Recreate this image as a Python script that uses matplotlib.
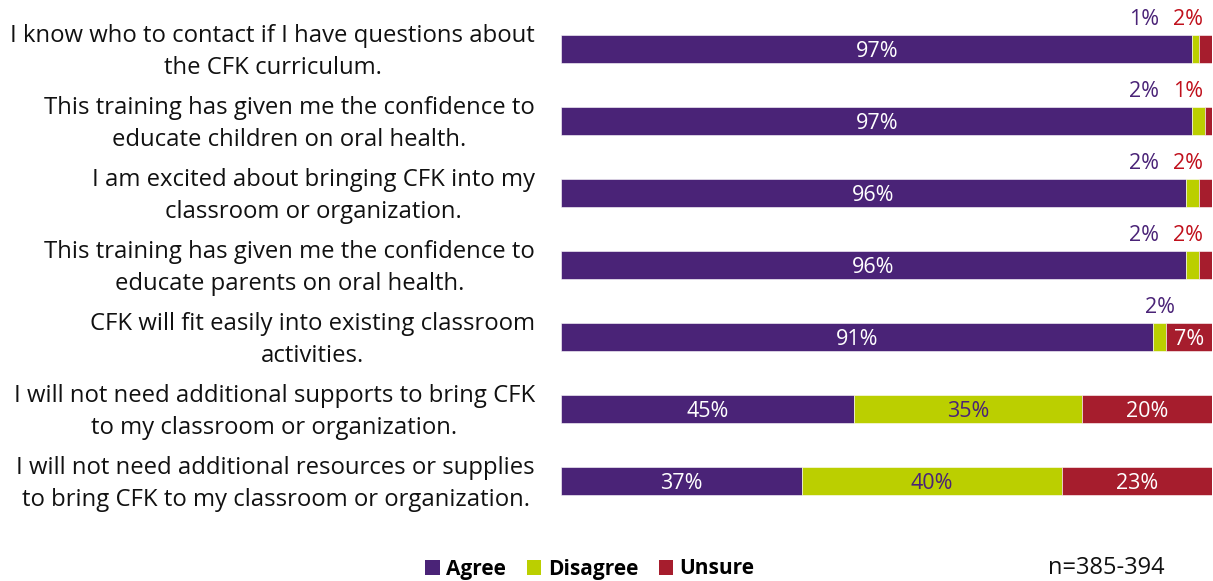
import matplotlib
matplotlib.use("Agg")
import matplotlib.pyplot as plt
from matplotlib.patches import Patch

plt.rcParams["font.family"] = ["Open Sans", "DejaVu Sans"]

statements = [
    "I know who to contact if I have questions about\nthe CFK curriculum.",
    "This training has given me the confidence to\neducate children on oral health.",
    "I am excited about bringing CFK into my\nclassroom or organization.",
    "This training has given me the confidence to\neducate parents on oral health.",
    "CFK will fit easily into existing classroom\nactivities.",
    "I will not need additional supports to bring CFK\nto my classroom or organization.",
    "I will not need additional resources or supplies\nto bring CFK to my classroom or organization.",
]
agree = [97, 97, 96, 96, 91, 45, 37]
disagree = [1, 2, 2, 2, 2, 35, 40]
unsure = [2, 1, 2, 2, 7, 20, 23]

series_names = ["Agree", "Disagree", "Unsure"]
colors = ["#4a2377", "#bbcf00", "#a61d2d"]
text_colors = ["#4a2377", "#4a2377", "#c0101c"]
inside_text = ["white", "#4a2377", "white"]
note = "n=385-394"

W, H = 1213, 581
fig = plt.figure(figsize=(W / 100, H / 100), dpi=100)
left_px, right_px, top_px, bottom_px = 561, 1212, 13, 517
ax = fig.add_axes([left_px / W, 1 - bottom_px / H,
                   (right_px - left_px) / W, (bottom_px - top_px) / H])

ypos = list(range(len(statements)))
lefts = [0] * len(statements)
for vals, col in zip([agree, disagree, unsure], colors):
    ax.barh(ypos, vals, left=lefts, height=0.4, color=col,
            edgecolor="white", linewidth=0.4)
    lefts = [l + v for l, v in zip(lefts, vals)]

ax.set_xlim(0, 100)
ax.set_ylim(len(statements) - 0.5, -0.5)
ax.axis("off")

fs = 15.5
for i, (a, d, u) in enumerate(zip(agree, disagree, unsure)):
    segs = [(0, a), (a, d), (a + d, u)]
    small = [k for k, (s, v) in enumerate(segs) if v < 5]
    for k, (s, v) in enumerate(segs):
        if v >= 5:
            ax.text(s + v / 2, i + 0.03, f"{v}%", ha="center", va="center",
                    color=inside_text[k], fontsize=fs)
    above = i - 0.41
    if len(small) == 2:
        # both small segments: labels side by side at the bar end
        ax.text(96.3, above, f"{u}%", ha="center", va="center",
                color=text_colors[2], fontsize=fs)
        ax.text(89.6, above, f"{d}%", ha="center", va="center",
                color=text_colors[1], fontsize=fs)
    else:
        for k in small:
            s, v = segs[k]
            ax.text(s + v / 2, above, f"{v}%", ha="center", va="center",
                    color=text_colors[k], fontsize=fs)
    ax.text(-26 / 6.51, i + 0.04, statements[i], ha="right", va="center",
            multialignment="center", fontsize=17.2, color="#111111",
            linespacing=1.45)

handles = [Patch(facecolor=c, edgecolor="none") for c in colors]
leg = fig.legend(handles, series_names, loc="center", ncol=3,
                 bbox_to_anchor=(590 / W, 1 - 569 / H), frameon=False,
                 handlelength=0.7, handleheight=0.7, handletextpad=0.3,
                 columnspacing=1.0, prop={"weight": "bold", "size": 15})
fig.text(1106 / W, 1 - 568 / H, note, ha="center", va="center",
         fontsize=17, color="#111111")

fig.savefig("out.png", dpi=100)
